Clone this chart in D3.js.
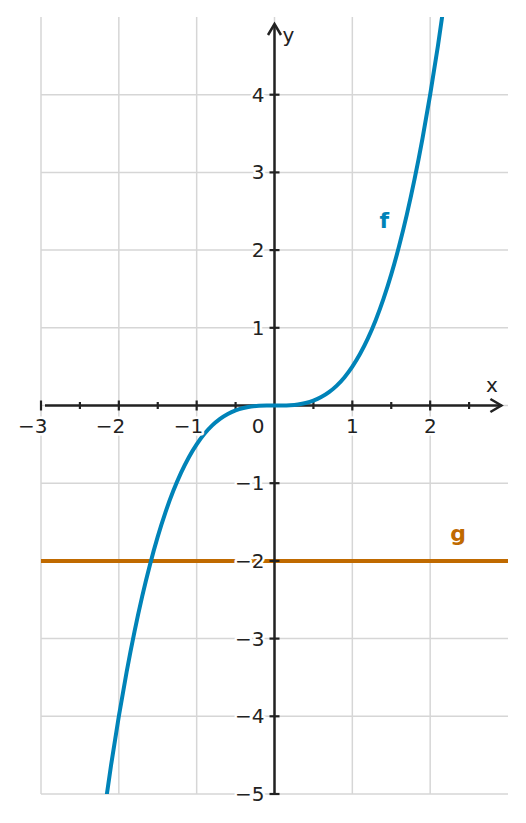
<!DOCTYPE html>
<html><head><meta charset="utf-8">
<script src="https://cdn.jsdelivr.net/npm/d3@7"></script>
<style>
html,body{margin:0;padding:0;background:#fff;}
svg{display:block;font-family:"DejaVu Sans",sans-serif;}
.halo{paint-order:stroke;stroke:#fff;stroke-width:5px;stroke-linejoin:round;}
</style></head>
<body>
<svg id="c" width="526" height="823"></svg>
<script>
// Data
const fX = [-2.2,-2.1,-2.0,-1.9,-1.8,-1.7,-1.6,-1.5,-1.4,-1.3,-1.2,-1.1,-1.0,-0.9,-0.8,-0.7,-0.6,-0.5,-0.4,-0.3,-0.2,-0.1,0,
            0.1,0.2,0.3,0.4,0.5,0.6,0.7,0.8,0.9,1.0,1.1,1.2,1.3,1.4,1.5,1.6,1.7,1.8,1.9,2.0,2.1,2.2];
const fY = [-5.324,-4.6305,-4,-3.4295,-2.916,-2.4565,-2.048,-1.6875,-1.372,-1.0985,-0.864,-0.6655,-0.5,-0.3645,-0.256,-0.1715,-0.108,-0.0625,-0.032,-0.0135,-0.004,-0.0005,0,
            0.0005,0.004,0.0135,0.032,0.0625,0.108,0.1715,0.256,0.3645,0.5,0.6655,0.864,1.0985,1.372,1.6875,2.048,2.4565,2.916,3.4295,4,4.6305,5.324];
const gValue = -2;
const xTicks = [-3,-2,-1,1,2];
const xMinorTicks = [-2.5,-1.5,-0.5,0.5,1.5,2.5];
const yTicks = [-5,-4,-3,-2,-1,1,2,3,4];
const xGrid = [-3,-2,-1,0,1,2];
const yGrid = [-5,-4,-3,-2,-1,0,1,2,3,4];
const fLabel = {x:1.41, y:2.29, text:"f"};
const gLabel = {x:2.36, y:-1.75, text:"g"};

const svg = d3.select("#c");
const x = d3.scaleLinear().domain([-3,3]).range([41,508]);
const y = d3.scaleLinear().domain([-5,5]).range([794,17]);
const fColor = "#0083b8", gColor = "#c06a00", axisColor = "#222";

svg.append("defs").append("clipPath").attr("id","clip")
  .append("rect").attr("x",x(-3)).attr("y",y(5)).attr("width",x(3)-x(-3)).attr("height",y(-5)-y(5));

// grid
svg.append("g").selectAll("line").data(xGrid).join("line")
  .attr("x1",d=>x(d)).attr("x2",d=>x(d)).attr("y1",y(5)).attr("y2",y(-5))
  .attr("stroke","#d6d6d6").attr("stroke-width",1.5);
svg.append("g").selectAll("line").data(yGrid).join("line")
  .attr("x1",x(-3)).attr("x2",x(3)).attr("y1",d=>y(d)).attr("y2",d=>y(d))
  .attr("stroke","#d6d6d6").attr("stroke-width",1.5);

// g line
svg.append("line").attr("x1",x(-3)).attr("x2",x(3)).attr("y1",y(gValue)).attr("y2",y(gValue))
  .attr("stroke",gColor).attr("stroke-width",4);

// axes
const ax = svg.append("g");
const xEnd = x(2.915);
const yEnd = y(4.91);
ax.append("line").attr("x1",x(-3)+4).attr("x2",xEnd).attr("y1",y(0)).attr("y2",y(0))
  .attr("stroke",axisColor).attr("stroke-width",2.5);
ax.append("path").attr("d",`M${xEnd-11},${y(0)-6.5}L${xEnd},${y(0)}L${xEnd-11},${y(0)+6.5}`)
  .attr("fill","none").attr("stroke",axisColor).attr("stroke-width",2.5);
ax.append("line").attr("x1",x(0)).attr("x2",x(0)).attr("y1",y(-5)).attr("y2",yEnd)
  .attr("stroke",axisColor).attr("stroke-width",2.5);
ax.append("path").attr("d",`M${x(0)-6.5},${yEnd+11}L${x(0)},${yEnd}L${x(0)+6.5},${yEnd+11}`)
  .attr("fill","none").attr("stroke",axisColor).attr("stroke-width",2.5);

// x ticks
ax.selectAll(".xt").data(xTicks).join("line").attr("class","xt")
  .attr("x1",d=>x(d)).attr("x2",d=>x(d)).attr("y1",y(0)-5).attr("y2",y(0)+5)
  .attr("stroke",axisColor).attr("stroke-width",2.2);
ax.selectAll(".xm").data(xMinorTicks).join("line").attr("class","xm")
  .attr("x1",d=>x(d)).attr("x2",d=>x(d)).attr("y1",y(0)-3.5).attr("y2",y(0)+3.5)
  .attr("stroke",axisColor).attr("stroke-width",2.2);
ax.selectAll(".yt").data(yTicks).join("line").attr("class","yt")
  .attr("x1",x(0)-5).attr("x2",x(0)+5).attr("y1",d=>y(d)).attr("y2",d=>y(d))
  .attr("stroke",axisColor).attr("stroke-width",2.2);

// f curve
svg.append("path").datum(fX.map((v,i)=>[v,fY[i]]))
  .attr("clip-path","url(#clip)")
  .attr("d",d3.line().x(d=>x(d[0])).y(d=>y(d[1])).curve(d3.curveMonotoneX))
  .attr("fill","none").attr("stroke",fColor).attr("stroke-width",4);

const fmt = d => d<0 ? "\u2212"+Math.abs(d) : String(d);
// tick labels
svg.append("g").selectAll("text").data(xTicks).join("text").attr("class","halo")
  .attr("x",d=>x(d)+6.5).attr("y",y(0)+27).attr("text-anchor","end")
  .attr("font-size",20).attr("fill",axisColor).text(fmt);
svg.append("g").selectAll("text").data(yTicks).join("text").attr("class","halo")
  .attr("x",x(0)-10).attr("y",d=>y(d)+7).attr("text-anchor","end")
  .attr("font-size",20).attr("fill",axisColor).text(fmt);
svg.append("text").attr("class","halo").attr("x",x(0)-10).attr("y",y(0)+27).attr("text-anchor","end")
  .attr("font-size",20).attr("fill",axisColor).text("0");

// axis names
svg.append("text").attr("x",492).attr("y",y(0)-14).attr("text-anchor","middle")
  .attr("font-size",20).attr("fill",axisColor).text("x");
svg.append("text").attr("x",x(0)+14).attr("y",42).attr("text-anchor","middle")
  .attr("font-size",20).attr("fill",axisColor).text("y");

// function labels
svg.append("text").attr("x",x(fLabel.x)).attr("y",y(fLabel.y)).attr("text-anchor","middle")
  .attr("font-size",22).attr("font-weight","bold").attr("fill",fColor).text(fLabel.text);
svg.append("text").attr("x",x(gLabel.x)).attr("y",y(gLabel.y)).attr("text-anchor","middle")
  .attr("font-size",22).attr("font-weight","bold").attr("fill",gColor).text(gLabel.text);
</script>
</body></html>
